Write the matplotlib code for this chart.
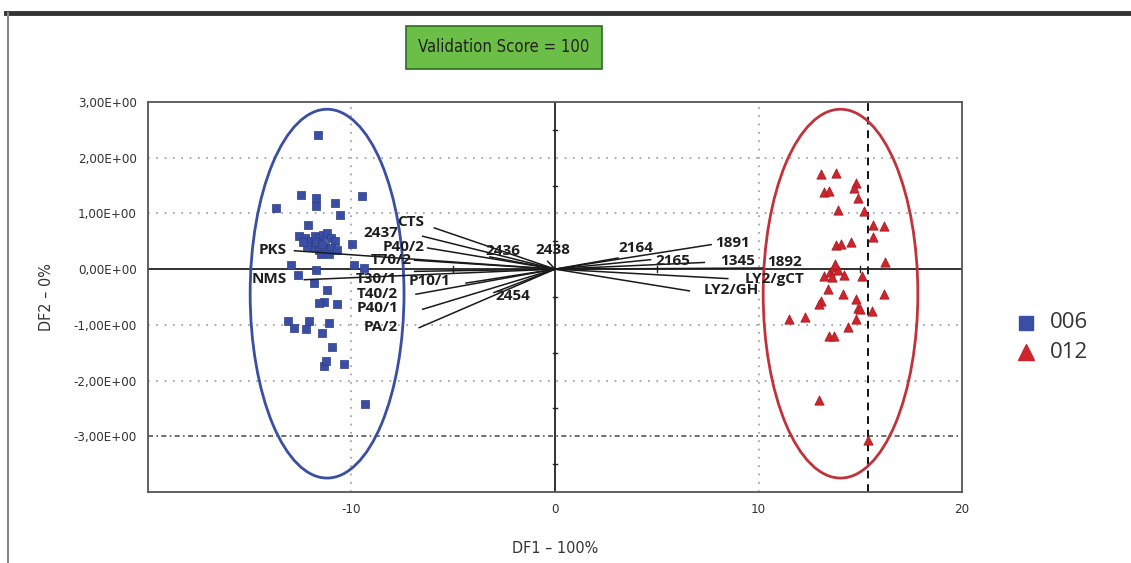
import numpy as np
import matplotlib
matplotlib.use('Agg')
import matplotlib.pyplot as plt
from matplotlib.patches import Ellipse

# --- data ---
blue_x = [-11.66, -13.7, -12.48, -11.74, -11.74, -10.81, -9.5, -10.55, -12.15,
          -12.6, -12.3, -12.0, -11.8, -11.6, -11.4, -11.2, -11.0, -10.8, -11.9,
          -11.6, -11.3, -11.0, -12.2, -11.5, -11.1, -10.7, -12.4, -11.75, -11.45,
          -9.98, -12.97, -12.64, -11.74, -9.86, -9.37, -11.83, -11.22, -11.34,
          -11.58, -10.71, -13.14, -12.81, -12.24, -12.07, -11.45, -11.09, -10.97,
          -11.34, -11.25, -10.38, -9.34]
blue_y = [2.41, 1.10, 1.33, 1.28, 1.13, 1.19, 1.31, 0.97, 0.80,
          0.60, 0.55, 0.50, 0.60, 0.55, 0.62, 0.65, 0.55, 0.50, 0.40,
          0.35, 0.40, 0.38, 0.42, 0.28, 0.28, 0.35, 0.48, 0.48, 0.45,
          0.45, 0.07, -0.10, -0.02, 0.08, 0.02, -0.25, -0.38, -0.59,
          -0.61, -0.63, -0.93, -1.05, -1.08, -0.93, -1.14, -0.96, -1.40,
          -1.74, -1.64, -1.70, -2.42]

red_x = [13.07, 13.81, 14.79, 14.71, 13.23, 13.48, 14.9, 13.92, 15.2, 15.61,
         16.18, 15.64, 13.81, 14.05, 14.55, 16.22,
         13.2, 13.5, 13.7, 13.9, 14.2, 13.6, 13.75,
         15.09, 13.43, 14.17, 16.18, 14.79, 13.07, 12.99, 14.9, 15.0, 15.58,
         14.79, 11.51, 12.3, 14.41, 13.48, 13.73, 12.99, 15.4]
red_y = [1.71, 1.73, 1.55, 1.46, 1.39, 1.40, 1.27, 1.07, 1.04, 0.79,
         0.77, 0.57, 0.44, 0.45, 0.49, 0.13,
         -0.12, -0.05, 0.03, -0.02, -0.10, -0.14, 0.10,
         -0.13, -0.35, -0.44, -0.44, -0.54, -0.57, -0.63, -0.69, -0.72, -0.75,
         -0.89, -0.90, -0.86, -1.03, -1.20, -1.20, -2.34, -3.07]

# loading vectors (end points) and their names
load_names = ['CTS', '2437', 'P40/2', 'T70/2', 'T30/1', 'P10/1', 'T40/2',
              'P40/1', 'PA/2', 'PKS', 'NMS', '2436', '2438', '2454',
              '2164', '2165', '1891', '1345', '1892', 'LY2/gCT', 'LY2/GH']
load_x = [-5.93, -6.5, -6.26, -6.9, -6.9, -4.37, -6.83, -6.5, -6.67, -12.8,
          -12.32, -3.2, -0.36, -3.0, 3.1, 4.7, 7.67, 7.34, 10.2, 8.49, 6.6]
load_y = [0.74, 0.59, 0.38, 0.16, -0.04, -0.25, -0.45, -0.72, -1.05, 0.33,
          -0.19, 0.22, 0.14, -0.42, 0.2, 0.17, 0.44, 0.12, 0.02, -0.17, -0.39]

# where each name sits (centre of the text, data units)
label_pos = [(-7.08, 0.84), (-8.55, 0.64), (-7.45, 0.39), (-8.06, 0.16),
             (-8.8, -0.17), (-6.15, -0.22), (-8.71, -0.45), (-8.71, -0.70),
             (-8.55, -1.03), (-13.88, 0.34), (-14.04, -0.18), (-2.57, 0.32),
             (-0.11, 0.34), (-2.08, -0.48), (3.98, 0.38), (5.78, 0.14),
             (8.73, 0.47), (8.98, 0.14), (11.27, 0.13), (10.78, -0.18),
             (8.65, -0.38)]

groups = ['006', '012']
ellipse_centers = [(-11.2, -0.44), (14.03, -0.44)]
ellipse_sizes = [(7.56, 6.62), (7.6, 6.62)]

yticks = [3, 2, 1, 0, -1, -2, -3]
xticks = [-10, 0, 10, 20]

blue = '#3a4ea3'
red = '#d0242c'
narrow = dict(family='DejaVu Sans', stretch='condensed')

fig = plt.figure(figsize=(11.31, 5.63), dpi=100)

# outer frame like the screenshot
fig.add_artist(plt.Line2D([6 / 1131, 1], [1 - 13 / 563] * 2, color='#333333', lw=3.5))
fig.add_artist(plt.Line2D([8 / 1131] * 2, [0, 1 - 13 / 563], color='#888888', lw=1.5))

ax = fig.add_axes([148 / 1131, 71 / 563, 814 / 1131, 390 / 563])
ax.set_xlim(-20, 20)
ax.set_ylim(-4, 3)

for v in [2, 1, -1, -2]:
    ax.axhline(v, color='#9a9a9a', lw=1.2, ls=(0, (1, 4)), zorder=1)
for v in [-10, 10]:
    ax.axvline(v, color='#9a9a9a', lw=1.2, ls=(0, (1, 4)), zorder=1)
ax.axhline(-3, color='#555555', lw=1.2, ls=(0, (3, 2, 1, 2)), zorder=1)
ax.axvline(15.4, color='#111111', lw=1.4, ls=(0, (4, 3)), zorder=1)
ax.axhline(0, color='#222222', lw=1.3, zorder=2)
ax.axvline(0, color='#222222', lw=1.3, zorder=2)

# little tick marks along the zero lines
for v in [-15, -5, 5, 15]:
    ax.plot([v, v], [-0.05, 0.05], color='#222222', lw=1, zorder=2)
for v in [2.5, 1.5, 0.5, -0.5, -1.5, -2.5, -3.5]:
    ax.plot([-0.12, 0.12], [v, v], color='#222222', lw=1, zorder=2)

for (cx, cy), (w, h), col in zip(ellipse_centers, ellipse_sizes, [blue, '#c0333b']):
    ax.add_patch(Ellipse((cx, cy), w, h, fill=False, edgecolor=col, lw=2, zorder=3))

ax.scatter(blue_x, blue_y, marker='s', s=32, color=blue, edgecolor='#2c3c88',
           lw=0.5, zorder=4)
ax.scatter(red_x, red_y, marker='^', s=45, color=red, edgecolor='#a01820',
           lw=0.5, zorder=4)

for name, x, y, (tx, ty) in zip(load_names, load_x, load_y, label_pos):
    ax.plot([0, x], [0, y], color='#1a1a1a', lw=1.1, zorder=5)
    ax.text(tx, ty, name, ha='center', va='center', fontsize=11,
            fontweight='bold', color='#1e1e1e', family='Open Sans', zorder=6)

ax.set_xticks(xticks)
ax.set_xticklabels([str(t) for t in xticks])
ax.set_yticks(yticks)
ax.set_yticklabels([f'{t:.2f}E+00'.replace('.', ',') for t in yticks])
ax.tick_params(length=0, labelsize=9.5, colors='#333333', pad=8)
for lab in ax.get_xticklabels() + ax.get_yticklabels():
    lab.set_family('DejaVu Sans')
    lab.set_stretch('condensed')
for sp in ax.spines.values():
    sp.set_color('#555555')
    sp.set_linewidth(1.3)

ax.set_xlabel('DF1 – 100%', fontsize=11.5, color='#333333', labelpad=18, **narrow)
ax.set_ylabel('DF2 – 0%', fontsize=11.5, color='#333333', labelpad=14, **narrow)

fig.text(504 / 1131, 1 - 47 / 563, 'Validation Score = 100', ha='center',
         va='center', fontsize=12, color='#222222', **narrow,
         bbox=dict(boxstyle='square,pad=0.75', facecolor='#6cbf46',
                   edgecolor='#2f6a2a', lw=1.2))

# legend
fig.add_artist(plt.Line2D([1026 / 1131], [1 - 323 / 563], marker='s', ms=10,
                          color=blue, lw=0))
fig.add_artist(plt.Line2D([1026 / 1131], [1 - 352 / 563], marker='^', ms=11,
                          color=red, lw=0))
fig.text(1050 / 1131, 1 - 323 / 563, groups[0], fontsize=16, va='center',
         color='#333333', family='Open Sans')
fig.text(1050 / 1131, 1 - 353 / 563, groups[1], fontsize=16, va='center',
         color='#333333', family='Open Sans')

fig.savefig('out.png', dpi=100)
